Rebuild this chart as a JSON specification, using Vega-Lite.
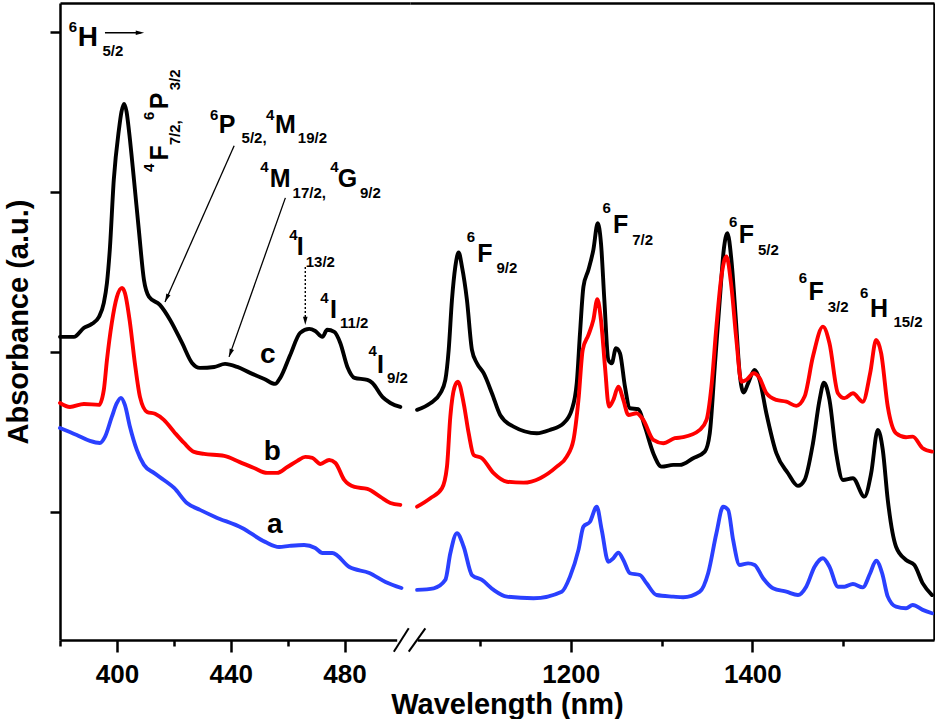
{
"$schema":"https://vega.github.io/schema/vega-lite/v6.json",
"padding":{"left":4,"top":3,"right":3,"bottom":0},
"background":"white",
"spacing":0,
"bounds":"flush",
"config":{"view":{"stroke":null},"axis":{"grid":false,"domainColor":"black","tickColor":"black","labelColor":"black","titleColor":"black","labelFont":"Liberation Sans","titleFont":"Liberation Sans","labelFontWeight":"bold","titleFontWeight":"bold"},"text":{"font":"Liberation Sans","fontWeight":"bold","color":"black"}},
"datasets":{
"leftCurves":[
{"s":"c","x":380.0,"y":2.094},{"s":"c","x":384.9,"y":2.094},{"s":"c","x":388.4,"y":2.15},{"s":"c","x":391.2,"y":2.175},{"s":"c","x":393.7,"y":2.219},{"s":"c","x":395.4,"y":2.306},{"s":"c","x":396.5,"y":2.431},{"s":"c","x":397.5,"y":2.638},{"s":"c","x":398.9,"y":3.075},{"s":"c","x":400.7,"y":3.388},{"s":"c","x":401.6,"y":3.5},{"s":"c","x":402.5,"y":3.55},{"s":"c","x":403.4,"y":3.5},{"s":"c","x":404.2,"y":3.388},{"s":"c","x":406.0,"y":3.075},{"s":"c","x":407.7,"y":2.763},{"s":"c","x":409.5,"y":2.45},{"s":"c","x":411.3,"y":2.344},{"s":"c","x":415.1,"y":2.294},{"s":"c","x":418.7,"y":2.2},{"s":"c","x":422.9,"y":2.056},{"s":"c","x":426.4,"y":1.931},{"s":"c","x":429.2,"y":1.9},{"s":"c","x":434.2,"y":1.906},{"s":"c","x":438.0,"y":1.925},{"s":"c","x":442.3,"y":1.906},{"s":"c","x":446.8,"y":1.869},{"s":"c","x":451.8,"y":1.831},{"s":"c","x":455.6,"y":1.8},{"s":"c","x":457.4,"y":1.838},{"s":"c","x":460.9,"y":1.981},{"s":"c","x":464.4,"y":2.119},{"s":"c","x":467.6,"y":2.144},{"s":"c","x":469.7,"y":2.131},{"s":"c","x":472.2,"y":2.094},{"s":"c","x":473.9,"y":2.138},{"s":"c","x":476.4,"y":2.125},{"s":"c","x":478.5,"y":2.056},{"s":"c","x":481.0,"y":1.906},{"s":"c","x":483.5,"y":1.838},{"s":"c","x":488.0,"y":1.825},{"s":"c","x":489.8,"y":1.806},{"s":"c","x":493.3,"y":1.719},{"s":"c","x":496.1,"y":1.681},{"s":"c","x":499.6,"y":1.656},
{"s":"b","x":380.0,"y":1.681},{"s":"b","x":383.5,"y":1.656},{"s":"b","x":388.4,"y":1.675},{"s":"b","x":393.7,"y":1.669},{"s":"b","x":395.4,"y":1.763},{"s":"b","x":396.5,"y":1.95},{"s":"b","x":398.2,"y":2.181},{"s":"b","x":400.0,"y":2.344},{"s":"b","x":401.8,"y":2.4},{"s":"b","x":402.8,"y":2.369},{"s":"b","x":404.6,"y":2.181},{"s":"b","x":406.3,"y":1.931},{"s":"b","x":408.1,"y":1.719},{"s":"b","x":410.6,"y":1.625},{"s":"b","x":413.4,"y":1.613},{"s":"b","x":416.5,"y":1.575},{"s":"b","x":420.1,"y":1.5},{"s":"b","x":423.6,"y":1.431},{"s":"b","x":427.1,"y":1.375},{"s":"b","x":430.6,"y":1.363},{"s":"b","x":437.7,"y":1.35},{"s":"b","x":443.0,"y":1.313},{"s":"b","x":448.2,"y":1.275},{"s":"b","x":452.8,"y":1.244},{"s":"b","x":456.3,"y":1.244},{"s":"b","x":459.9,"y":1.281},{"s":"b","x":463.4,"y":1.319},{"s":"b","x":466.2,"y":1.344},{"s":"b","x":468.7,"y":1.338},{"s":"b","x":471.5,"y":1.3},{"s":"b","x":474.6,"y":1.325},{"s":"b","x":476.8,"y":1.306},{"s":"b","x":479.9,"y":1.2},{"s":"b","x":483.5,"y":1.156},{"s":"b","x":488.0,"y":1.144},{"s":"b","x":492.6,"y":1.094},{"s":"b","x":496.1,"y":1.056},{"s":"b","x":499.6,"y":1.044},
{"s":"a","x":380.0,"y":1.525},{"s":"a","x":385.9,"y":1.481},{"s":"a","x":390.5,"y":1.444},{"s":"a","x":394.0,"y":1.431},{"s":"a","x":395.8,"y":1.469},{"s":"a","x":398.2,"y":1.594},{"s":"a","x":400.0,"y":1.681},{"s":"a","x":401.4,"y":1.713},{"s":"a","x":402.8,"y":1.669},{"s":"a","x":404.6,"y":1.531},{"s":"a","x":407.0,"y":1.388},{"s":"a","x":409.5,"y":1.294},{"s":"a","x":413.0,"y":1.244},{"s":"a","x":416.5,"y":1.2},{"s":"a","x":420.1,"y":1.15},{"s":"a","x":424.6,"y":1.056},{"s":"a","x":429.2,"y":1.013},{"s":"a","x":434.5,"y":0.969},{"s":"a","x":444.0,"y":0.9},{"s":"a","x":452.1,"y":0.813},{"s":"a","x":457.0,"y":0.781},{"s":"a","x":460.6,"y":0.788},{"s":"a","x":465.8,"y":0.794},{"s":"a","x":469.7,"y":0.775},{"s":"a","x":472.2,"y":0.744},{"s":"a","x":475.7,"y":0.744},{"s":"a","x":481.7,"y":0.656},{"s":"a","x":488.7,"y":0.619},{"s":"a","x":494.4,"y":0.563},{"s":"a","x":500.0,"y":0.525}
],
"rightCurves":[
{"s":"c","x":1030.8,"y":1.638},{"s":"c","x":1045.4,"y":1.679},{"s":"c","x":1056.4,"y":1.742},{"s":"c","x":1061.9,"y":1.825},{"s":"c","x":1065.6,"y":2.013},{"s":"c","x":1069.2,"y":2.325},{"s":"c","x":1072.9,"y":2.533},{"s":"c","x":1076.6,"y":2.621},{"s":"c","x":1080.2,"y":2.533},{"s":"c","x":1085.7,"y":2.325},{"s":"c","x":1091.2,"y":2.013},{"s":"c","x":1096.7,"y":1.929},{"s":"c","x":1104.1,"y":1.867},{"s":"c","x":1113.2,"y":1.742},{"s":"c","x":1122.3,"y":1.606},{"s":"c","x":1137.0,"y":1.533},{"s":"c","x":1162.6,"y":1.492},{"s":"c","x":1177.3,"y":1.513},{"s":"c","x":1192.0,"y":1.554},{"s":"c","x":1201.1,"y":1.638},{"s":"c","x":1206.6,"y":1.804},{"s":"c","x":1210.2,"y":2.117},{"s":"c","x":1214.0,"y":2.408},{"s":"c","x":1219.5,"y":2.513},{"s":"c","x":1224.9,"y":2.638},{"s":"c","x":1229.7,"y":2.804},{"s":"c","x":1233.3,"y":2.679},{"s":"c","x":1237.0,"y":2.325},{"s":"c","x":1241.4,"y":1.95},{"s":"c","x":1245.1,"y":1.929},{"s":"c","x":1249.8,"y":2.023},{"s":"c","x":1254.2,"y":1.992},{"s":"c","x":1259.7,"y":1.783},{"s":"c","x":1265.2,"y":1.648},{"s":"c","x":1274.4,"y":1.642},{"s":"c","x":1281.6,"y":1.533},{"s":"c","x":1290.9,"y":1.367},{"s":"c","x":1300.0,"y":1.283},{"s":"c","x":1312.9,"y":1.294},{"s":"c","x":1320.1,"y":1.294},{"s":"c","x":1334.8,"y":1.336},{"s":"c","x":1347.6,"y":1.377},{"s":"c","x":1353.1,"y":1.492},{"s":"c","x":1358.6,"y":1.908},{"s":"c","x":1364.1,"y":2.325},{"s":"c","x":1368.5,"y":2.638},{"s":"c","x":1372.5,"y":2.742},{"s":"c","x":1376.9,"y":2.575},{"s":"c","x":1381.6,"y":2.221},{"s":"c","x":1386.0,"y":1.867},{"s":"c","x":1390.4,"y":1.746},{"s":"c","x":1395.3,"y":1.804},{"s":"c","x":1402.5,"y":1.888},{"s":"c","x":1408.0,"y":1.825},{"s":"c","x":1415.4,"y":1.617},{"s":"c","x":1426.4,"y":1.367},{"s":"c","x":1439.2,"y":1.242},{"s":"c","x":1450.2,"y":1.163},{"s":"c","x":1457.5,"y":1.2},{"s":"c","x":1466.7,"y":1.429},{"s":"c","x":1474.0,"y":1.7},{"s":"c","x":1478.8,"y":1.808},{"s":"c","x":1484.9,"y":1.7},{"s":"c","x":1492.3,"y":1.367},{"s":"c","x":1499.7,"y":1.2},{"s":"c","x":1510.7,"y":1.211},{"s":"c","x":1523.4,"y":1.096},{"s":"c","x":1530.8,"y":1.242},{"s":"c","x":1538.1,"y":1.513},{"s":"c","x":1543.6,"y":1.388},{"s":"c","x":1549.1,"y":1.075},{"s":"c","x":1558.2,"y":0.783},{"s":"c","x":1569.2,"y":0.7},{"s":"c","x":1578.4,"y":0.669},{"s":"c","x":1587.6,"y":0.554},{"s":"c","x":1597.8,"y":0.481},
{"s":"b","x":1030.8,"y":1.033},{"s":"b","x":1045.4,"y":1.086},{"s":"b","x":1058.2,"y":1.148},{"s":"b","x":1063.7,"y":1.283},{"s":"b","x":1067.4,"y":1.596},{"s":"b","x":1072.2,"y":1.783},{"s":"b","x":1075.8,"y":1.814},{"s":"b","x":1082.1,"y":1.679},{"s":"b","x":1087.6,"y":1.492},{"s":"b","x":1093.1,"y":1.356},{"s":"b","x":1102.2,"y":1.336},{"s":"b","x":1115.1,"y":1.242},{"s":"b","x":1129.7,"y":1.189},{"s":"b","x":1148.0,"y":1.183},{"s":"b","x":1166.3,"y":1.211},{"s":"b","x":1184.6,"y":1.283},{"s":"b","x":1195.6,"y":1.346},{"s":"b","x":1203.0,"y":1.45},{"s":"b","x":1208.5,"y":1.7},{"s":"b","x":1213.2,"y":2.013},{"s":"b","x":1219.5,"y":2.106},{"s":"b","x":1224.9,"y":2.2},{"s":"b","x":1229.3,"y":2.329},{"s":"b","x":1233.3,"y":2.2},{"s":"b","x":1237.7,"y":1.908},{"s":"b","x":1242.1,"y":1.658},{"s":"b","x":1246.9,"y":1.7},{"s":"b","x":1252.4,"y":1.783},{"s":"b","x":1257.9,"y":1.7},{"s":"b","x":1263.4,"y":1.606},{"s":"b","x":1272.5,"y":1.617},{"s":"b","x":1279.9,"y":1.575},{"s":"b","x":1290.9,"y":1.45},{"s":"b","x":1301.9,"y":1.429},{"s":"b","x":1314.6,"y":1.461},{"s":"b","x":1323.8,"y":1.467},{"s":"b","x":1342.1,"y":1.513},{"s":"b","x":1349.5,"y":1.575},{"s":"b","x":1354.9,"y":1.783},{"s":"b","x":1360.4,"y":2.158},{"s":"b","x":1365.9,"y":2.471},{"s":"b","x":1371.4,"y":2.596},{"s":"b","x":1376.9,"y":2.408},{"s":"b","x":1382.4,"y":2.075},{"s":"b","x":1387.9,"y":1.814},{"s":"b","x":1393.4,"y":1.825},{"s":"b","x":1401.4,"y":1.867},{"s":"b","x":1408.0,"y":1.836},{"s":"b","x":1415.4,"y":1.742},{"s":"b","x":1426.4,"y":1.7},{"s":"b","x":1437.4,"y":1.689},{"s":"b","x":1448.4,"y":1.663},{"s":"b","x":1457.5,"y":1.721},{"s":"b","x":1466.7,"y":1.971},{"s":"b","x":1477.7,"y":2.158},{"s":"b","x":1484.9,"y":2.054},{"s":"b","x":1494.2,"y":1.742},{"s":"b","x":1501.4,"y":1.711},{"s":"b","x":1510.7,"y":1.742},{"s":"b","x":1521.6,"y":1.689},{"s":"b","x":1529.7,"y":1.867},{"s":"b","x":1536.3,"y":2.075},{"s":"b","x":1541.8,"y":1.992},{"s":"b","x":1549.1,"y":1.658},{"s":"b","x":1558.2,"y":1.492},{"s":"b","x":1569.2,"y":1.467},{"s":"b","x":1576.6,"y":1.471},{"s":"b","x":1587.6,"y":1.398},{"s":"b","x":1597.8,"y":1.377},
{"s":"a","x":1030.8,"y":0.513},{"s":"a","x":1049.1,"y":0.523},{"s":"a","x":1061.9,"y":0.575},{"s":"a","x":1067.4,"y":0.742},{"s":"a","x":1074.7,"y":0.867},{"s":"a","x":1082.1,"y":0.783},{"s":"a","x":1091.2,"y":0.606},{"s":"a","x":1102.2,"y":0.575},{"s":"a","x":1115.1,"y":0.513},{"s":"a","x":1129.7,"y":0.471},{"s":"a","x":1159.0,"y":0.461},{"s":"a","x":1190.1,"y":0.502},{"s":"a","x":1199.2,"y":0.596},{"s":"a","x":1208.5,"y":0.763},{"s":"a","x":1214.0,"y":0.908},{"s":"a","x":1221.2,"y":0.939},{"s":"a","x":1228.6,"y":1.033},{"s":"a","x":1234.1,"y":0.888},{"s":"a","x":1241.4,"y":0.689},{"s":"a","x":1246.9,"y":0.711},{"s":"a","x":1252.4,"y":0.746},{"s":"a","x":1257.9,"y":0.7},{"s":"a","x":1265.2,"y":0.617},{"s":"a","x":1276.2,"y":0.606},{"s":"a","x":1283.5,"y":0.554},{"s":"a","x":1294.5,"y":0.481},{"s":"a","x":1312.9,"y":0.471},{"s":"a","x":1323.8,"y":0.467},{"s":"a","x":1342.1,"y":0.502},{"s":"a","x":1351.3,"y":0.617},{"s":"a","x":1360.4,"y":0.867},{"s":"a","x":1367.8,"y":1.033},{"s":"a","x":1373.3,"y":1.013},{"s":"a","x":1378.8,"y":0.825},{"s":"a","x":1386.0,"y":0.669},{"s":"a","x":1395.3,"y":0.679},{"s":"a","x":1402.5,"y":0.669},{"s":"a","x":1411.8,"y":0.586},{"s":"a","x":1422.7,"y":0.523},{"s":"a","x":1437.4,"y":0.502},{"s":"a","x":1450.2,"y":0.481},{"s":"a","x":1459.3,"y":0.533},{"s":"a","x":1468.5,"y":0.658},{"s":"a","x":1477.7,"y":0.711},{"s":"a","x":1484.9,"y":0.658},{"s":"a","x":1494.2,"y":0.533},{"s":"a","x":1501.4,"y":0.533},{"s":"a","x":1510.7,"y":0.55},{"s":"a","x":1521.6,"y":0.529},{"s":"a","x":1529.7,"y":0.617},{"s":"a","x":1536.3,"y":0.696},{"s":"a","x":1542.9,"y":0.617},{"s":"a","x":1549.1,"y":0.471},{"s":"a","x":1558.2,"y":0.408},{"s":"a","x":1569.2,"y":0.398},{"s":"a","x":1576.6,"y":0.419},{"s":"a","x":1587.6,"y":0.388},{"s":"a","x":1597.8,"y":0.367}
],
"leftBig":[{"x":438.7,"y":3.369,"t":"P"},{"x":459.2,"y":3.369,"t":"M"},{"x":457.4,"y":3.031,"t":"M"},{"x":481.0,"y":3.031,"t":"G"},{"x":464.4,"y":2.606,"t":"I"},{"x":476.1,"y":2.2125,"t":"I"},{"x":492.6,"y":1.869,"t":"I"}],
"leftH":[{"x":389.8,"y":3.914,"t":"H"}],
"leftSmall":[{"x":384.5,"y":4.0,"t":"6"},{"x":398.6,"y":3.846,"t":"5/2"},{"x":434.2,"y":3.45,"t":"6"},{"x":448.2,"y":3.306,"t":"5/2,"},{"x":453.9,"y":3.45,"t":"4"},{"x":468.7,"y":3.306,"t":"19/2"},{"x":451.8,"y":3.125,"t":"4"},{"x":467.6,"y":2.9625,"t":"17/2,"},{"x":476.4,"y":3.125,"t":"4"},{"x":489.1,"y":2.9625,"t":"9/2"},{"x":462.0,"y":2.7,"t":"4"},{"x":471.5,"y":2.531,"t":"13/2"},{"x":472.9,"y":2.306,"t":"4"},{"x":483.4,"y":2.15,"t":"11/2"},{"x":489.9,"y":1.975,"t":"4"},{"x":498.6,"y":1.806,"t":"9/2"}],
"leftRotBig":[{"x":418.0,"y":3.244,"t":"F"},{"x":418.0,"y":3.569,"t":"P"}],
"leftRotSmall":[{"x":413.0,"y":3.15,"t":"4"},{"x":422.2,"y":3.369,"t":"7/2,"},{"x":413.0,"y":3.475,"t":"6"},{"x":422.2,"y":3.7,"t":"3/2"}],
"labels":[{"x":453.0,"y":1.931,"t":"c"},{"x":454.6,"y":1.325,"t":"b"},{"x":455.5,"y":0.869,"t":"a"}],
"arrows":[{"x":395.8,"y":3.994,"x2":408.5,"y2":3.994},{"x":441.2,"y":3.2875,"x2":416.9,"y2":2.3125},{"x":459.2,"y":2.9625,"x2":439.4,"y2":1.969}],
"dotted":[{"x":466.2,"y":2.531,"x2":466.2,"y2":2.2}],
"heads":[{"x":408.1,"y":3.994,"a":90},{"x":417.5,"y":2.336,"a":203.9},{"x":439.9,"y":1.9925,"a":199.4},{"x":466.2,"y":2.194,"a":180}],
"gapLeft":[{"x":498.5,"x2":503,"y":0.2}],
"gapRight":[{"x":1023,"x2":1031.5,"y":0.2}],
"breaks":[{"x":1005.2,"y":0.127,"x2":1021.6,"y2":0.273},{"x":1021.6,"y":0.127,"x2":1039.9,"y2":0.273}],
"rightBig":[{"x":1105.5,"y":2.564,"t":"F"},{"x":1254.9,"y":2.744,"t":"F"},{"x":1393.4,"y":2.681,"t":"F"},{"x":1470.3,"y":2.325,"t":"F"},{"x":1539.6,"y":2.221,"t":"H"}],
"rightSmall":[{"x":1090.1,"y":2.689,"t":"6"},{"x":1129.7,"y":2.494,"t":"9/2"},{"x":1239.6,"y":2.869,"t":"6"},{"x":1279.1,"y":2.669,"t":"7/2"},{"x":1378.8,"y":2.783,"t":"6"},{"x":1417.6,"y":2.606,"t":"5/2"},{"x":1455.7,"y":2.431,"t":"6"},{"x":1494.5,"y":2.252,"t":"3/2"},{"x":1523.1,"y":2.3375,"t":"6"},{"x":1571.4,"y":2.158,"t":"15/2"}]
},
"hconcat":[
{
"width":350,"height":637,
"resolve":{"axis":{"x":"independent","y":"independent"}},
"layer":[
{"data":{"name":"leftCurves"},"mark":{"type":"line","strokeWidth":3.9,"interpolate":"monotone","strokeJoin":"round","strokeCap":"round"},
"encoding":{
"x":{"field":"x","type":"quantitative","scale":{"domain":[380,503],"nice":false,"zero":false},"axis":{"orient":"bottom","values":[400,440,480],"format":"d","tickSize":12,"tickWidth":2.5,"domainWidth":2.5,"labelFontSize":26,"labelPadding":9,"title":"Wavelength (nm)","titleFontSize":29,"titleX":447,"titleY":73,"titleAlign":"center","titleBaseline":"alphabetic","titleAngle":0}},
"y":{"field":"y","type":"quantitative","scale":{"domain":[0.2,4.18],"nice":false,"zero":false},"axis":{"orient":"left","values":[1,2,3,4],"labels":false,"tickSize":10,"tickWidth":2.5,"domainWidth":2.5,"title":"Absorbance (a.u.)","titleFontSize":29,"titlePadding":15}},
"color":{"field":"s","type":"nominal","scale":{"domain":["a","b","c"],"range":["#2a40ff","#ff0000","#000000"]},"legend":null}}},
{"data":{"name":"gapLeft"},"mark":{"type":"rule","strokeWidth":5,"color":"white"},
"encoding":{
"x":{"field":"x","type":"quantitative","scale":{"domain":[380,503],"nice":false,"zero":false},"axis":{"orient":"bottom","values":[380,420,460],"labels":false,"domain":false,"tickSize":6,"tickWidth":2.5,"title":null}},
"y":{"field":"y","type":"quantitative","scale":{"domain":[0.2,4.18],"nice":false,"zero":false},"axis":null},
"x2":{"field":"x2"}}},
{"data":{"name":"arrows"},"mark":{"type":"rule","strokeWidth":1.3,"color":"black"},
"encoding":{
"x":{"field":"x","type":"quantitative","scale":{"domain":[380,503],"nice":false,"zero":false},"axis":{"orient":"top","labels":false,"ticks":false,"domain":true,"domainWidth":2.5,"title":null}},
"y":{"field":"y","type":"quantitative","scale":{"domain":[0.2,4.18],"nice":false,"zero":false},"axis":null},
"x2":{"field":"x2"},"y2":{"field":"y2"}}},
{"data":{"name":"dotted"},"mark":{"type":"rule","strokeWidth":1.4,"color":"black","strokeDash":[2,2]},
"encoding":{
"x":{"field":"x","type":"quantitative","scale":{"domain":[380,503],"nice":false,"zero":false},"axis":null},
"y":{"field":"y","type":"quantitative","scale":{"domain":[0.2,4.18],"nice":false,"zero":false},"axis":null},
"x2":{"field":"x2"},"y2":{"field":"y2"}}},
{"data":{"name":"heads"},"mark":{"type":"point","shape":"M0,-1L0.55,1L-0.55,1Z","filled":true,"size":70,"fill":"black","stroke":null,"opacity":1},
"encoding":{
"x":{"field":"x","type":"quantitative","scale":{"domain":[380,503],"nice":false,"zero":false},"axis":null},
"y":{"field":"y","type":"quantitative","scale":{"domain":[0.2,4.18],"nice":false,"zero":false},"axis":null},
"angle":{"field":"a","type":"quantitative","scale":null}}},
{"data":{"name":"leftBig"},"mark":{"type":"text","fontSize":25,"align":"center","baseline":"alphabetic"},
"encoding":{
"x":{"field":"x","type":"quantitative","scale":{"domain":[380,503],"nice":false,"zero":false},"axis":null},
"y":{"field":"y","type":"quantitative","scale":{"domain":[0.2,4.18],"nice":false,"zero":false},"axis":null},
"text":{"field":"t"}}},
{"data":{"name":"leftH"},"mark":{"type":"text","fontSize":28,"align":"center","baseline":"alphabetic"},
"encoding":{
"x":{"field":"x","type":"quantitative","scale":{"domain":[380,503],"nice":false,"zero":false},"axis":null},
"y":{"field":"y","type":"quantitative","scale":{"domain":[0.2,4.18],"nice":false,"zero":false},"axis":null},
"text":{"field":"t"}}},
{"data":{"name":"leftSmall"},"mark":{"type":"text","fontSize":15,"align":"center","baseline":"alphabetic"},
"encoding":{
"x":{"field":"x","type":"quantitative","scale":{"domain":[380,503],"nice":false,"zero":false},"axis":null},
"y":{"field":"y","type":"quantitative","scale":{"domain":[0.2,4.18],"nice":false,"zero":false},"axis":null},
"text":{"field":"t"}}},
{"data":{"name":"leftRotBig"},"mark":{"type":"text","fontSize":25,"align":"center","baseline":"alphabetic","angle":270},
"encoding":{
"x":{"field":"x","type":"quantitative","scale":{"domain":[380,503],"nice":false,"zero":false},"axis":null},
"y":{"field":"y","type":"quantitative","scale":{"domain":[0.2,4.18],"nice":false,"zero":false},"axis":null},
"text":{"field":"t"}}},
{"data":{"name":"leftRotSmall"},"mark":{"type":"text","fontSize":15,"align":"center","baseline":"alphabetic","angle":270},
"encoding":{
"x":{"field":"x","type":"quantitative","scale":{"domain":[380,503],"nice":false,"zero":false},"axis":null},
"y":{"field":"y","type":"quantitative","scale":{"domain":[0.2,4.18],"nice":false,"zero":false},"axis":null},
"text":{"field":"t"}}},
{"data":{"name":"labels"},"mark":{"type":"text","fontSize":28,"align":"center","baseline":"alphabetic"},
"encoding":{
"x":{"field":"x","type":"quantitative","scale":{"domain":[380,503],"nice":false,"zero":false},"axis":null},
"y":{"field":"y","type":"quantitative","scale":{"domain":[0.2,4.18],"nice":false,"zero":false},"axis":null},
"text":{"field":"t"}}}
]
},
{
"width":524,"height":637,
"resolve":{"axis":{"x":"independent","y":"independent"}},
"layer":[
{"data":{"name":"rightCurves"},"mark":{"type":"line","strokeWidth":3.9,"interpolate":"monotone","strokeJoin":"round","strokeCap":"round"},
"encoding":{
"x":{"field":"x","type":"quantitative","scale":{"domain":[1023,1600],"nice":false,"zero":false},"axis":{"orient":"bottom","values":[1200,1400],"format":"d","tickSize":12,"tickWidth":2.5,"domainWidth":2.5,"labelFontSize":26,"labelPadding":9,"title":null}},
"y":{"field":"y","type":"quantitative","scale":{"domain":[0.2,4.18],"nice":false,"zero":false},"axis":{"orient":"right","labels":false,"ticks":false,"domainWidth":2.5,"title":null}},
"color":{"field":"s","type":"nominal","scale":{"domain":["a","b","c"],"range":["#2a40ff","#ff0000","#000000"]},"legend":null}}},
{"data":{"name":"rightBig"},"mark":{"type":"text","fontSize":25,"align":"center","baseline":"alphabetic"},
"encoding":{
"x":{"field":"x","type":"quantitative","scale":{"domain":[1023,1600],"nice":false,"zero":false},"axis":{"orient":"bottom","values":[1100,1300,1500],"labels":false,"domain":false,"tickSize":6,"tickWidth":2.5,"title":null}},
"y":{"field":"y","type":"quantitative","scale":{"domain":[0.2,4.18],"nice":false,"zero":false},"axis":null},
"text":{"field":"t"}}},
{"data":{"name":"rightSmall"},"mark":{"type":"text","fontSize":15,"align":"center","baseline":"alphabetic"},
"encoding":{
"x":{"field":"x","type":"quantitative","scale":{"domain":[1023,1600],"nice":false,"zero":false},"axis":{"orient":"top","labels":false,"ticks":false,"domain":true,"domainWidth":2.5,"title":null}},
"y":{"field":"y","type":"quantitative","scale":{"domain":[0.2,4.18],"nice":false,"zero":false},"axis":null},
"text":{"field":"t"}}},
{"data":{"name":"gapRight"},"mark":{"type":"rule","strokeWidth":5,"color":"white"},
"encoding":{
"x":{"field":"x","type":"quantitative","scale":{"domain":[1023,1600],"nice":false,"zero":false},"axis":null},
"y":{"field":"y","type":"quantitative","scale":{"domain":[0.2,4.18],"nice":false,"zero":false},"axis":null},
"x2":{"field":"x2"}}},
{"data":{"name":"breaks"},"mark":{"type":"rule","strokeWidth":2,"color":"black"},
"encoding":{
"x":{"field":"x","type":"quantitative","scale":{"domain":[1023,1600],"nice":false,"zero":false},"axis":null},
"y":{"field":"y","type":"quantitative","scale":{"domain":[0.2,4.18],"nice":false,"zero":false},"axis":null},
"x2":{"field":"x2"},"y2":{"field":"y2"}}}
]
}
]
}
